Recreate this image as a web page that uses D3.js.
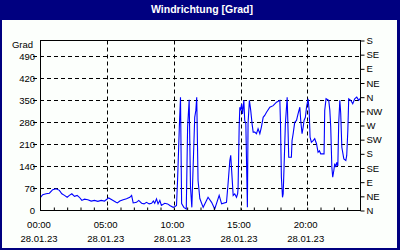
<!DOCTYPE html>
<html>
<head>
<meta charset="utf-8">
<script src="https://cdn.jsdelivr.net/npm/d3@7"></script>
<style>
	body { margin: 0; background: #ffffff; }
	text { font-family: "Liberation Sans", Arial, sans-serif; }
</style>
</head>
<body>
<script>
// minutes since midnight, 28.01.23
var minutes = [0, 10, 25, 40, 55, 70, 85, 96, 108, 120, 130, 141, 153, 165, 175, 186, 198, 213, 228, 243,
	258, 273, 288, 307, 321, 340, 346, 357, 372, 387, 402, 410, 417, 432, 442, 455, 466, 477, 489, 500,
	508, 514, 522, 529, 537, 544, 559, 572, 582, 597, 604, 612, 617, 625, 630, 635, 645, 656, 662, 669,
	675, 681, 694, 699, 703, 709, 717, 732, 754, 770, 784, 804, 815, 837, 844, 852, 856, 862, 867, 874,
	882, 887, 889, 894, 897, 900, 905, 909, 915, 919, 924, 931, 934, 940, 946, 952, 957, 964, 972, 979,
	987, 994, 1002, 1009, 1017, 1032, 1047, 1062, 1077, 1080, 1084, 1089, 1092, 1096, 1102, 1110, 1114, 1117, 1129, 1132,
	1137, 1144, 1152, 1159, 1167, 1171, 1177, 1182, 1186, 1192, 1197, 1204, 1209, 1213, 1219, 1227, 1234, 1242, 1249, 1255,
	1261, 1276, 1279, 1285, 1297, 1302, 1306, 1311, 1315, 1320, 1324, 1329, 1333, 1338, 1342, 1347, 1351, 1356, 1365, 1374,
	1378, 1383, 1387, 1396, 1405, 1414, 1423, 1432, 1440];

// wind direction in degrees
var degrees = [42, 50, 53, 55, 66, 69, 64, 53, 48, 42, 48, 53, 45, 48, 42, 32, 36, 34, 30, 32,
	29, 32, 30, 40, 34, 26, 24, 30, 34, 37, 42, 48, 24, 26, 32, 23, 21, 26, 21, 23,
	30, 23, 37, 21, 32, 16, 23, 21, 16, 10, 12, 16, 100, 270, 360, 22, 10, 5, 265, 352,
	74, 10, 296, 318, 360, 95, 38, 10, 42, 26, 5, 48, 21, 26, 85, 159, 175, 106, 48, 53,
	42, 53, 69, 265, 328, 318, 339, 307, 350, 286, 276, 10, 276, 350, 318, 276, 249, 249, 244, 260,
	244, 265, 296, 302, 312, 328, 333, 344, 350, 276, 106, 42, 53, 138, 276, 360, 254, 169, 169, 222,
	244, 280, 286, 307, 328, 286, 244, 265, 286, 296, 328, 355, 318, 233, 217, 222, 228, 212, 185, 190,
	180, 180, 318, 355, 350, 318, 265, 138, 106, 127, 149, 138, 153, 141, 280, 350, 308, 201, 164, 159,
	175, 254, 355, 350, 339, 355, 360, 350, 357];

var leftTicks = [0, 70, 140, 210, 280, 350, 420, 490];
var compassTicks = [0, 45, 90, 135, 180, 225, 270, 315, 360, 405, 450, 495, 540];
var compassLabels = ["N", "NE", "E", "SE", "S", "SW", "W", "NW", "N", "NE", "E", "SE", "S"];
var timeTicks = [0, 300, 600, 900, 1200];
var timeLabels = ["00:00", "05:00", "10:00", "15:00", "20:00"];
var dateLabels = ["28.01.23", "28.01.23", "28.01.23", "28.01.23", "28.01.23"];

var width = 400, height = 250;
var plotLeft = 40.5, plotRight = 360.5, plotTop = 40.5, plotBottom = 210.5;

var svg = d3.select("body").append("svg")
	.attr("width", width)
	.attr("height", height);

// frame and title bar
svg.append("rect").attr("width", width).attr("height", height).attr("fill", "#000080");
svg.append("rect")
	.attr("x", 2).attr("y", 20)
	.attr("width", 395).attr("height", 228)
	.attr("fill", "#fcfffc");
svg.append("text")
	.attr("x", 202).attr("y", 13)
	.attr("text-anchor", "middle")
	.attr("fill", "#ffffff")
	.attr("font-weight", "bold")
	.attr("font-size", "10.5px")
	.text("Windrichtung [Grad]");

var x = d3.scaleLinear().domain([0, 1440]).range([plotLeft, plotRight]);
var y = d3.scaleLinear().domain([0, 540]).range([plotBottom, plotTop]);

// dashed grid
svg.append("g").selectAll("line")
	.data(leftTicks.slice(1))
	.enter()
	.append("line")
	.attr("x1", 33).attr("x2", plotRight)
	.attr("y1", function(d) { return Math.round(y(d)) + 0.5; })
	.attr("y2", function(d) { return Math.round(y(d)) + 0.5; })
	.attr("stroke", "#000")
	.attr("stroke-dasharray", "4,3");

svg.append("g").selectAll("line")
	.data(timeTicks.slice(1))
	.enter()
	.append("line")
	.attr("x1", function(d) { return Math.round(x(d)) + 0.5; })
	.attr("x2", function(d) { return Math.round(x(d)) + 0.5; })
	.attr("y1", plotTop).attr("y2", plotBottom)
	.attr("stroke", "#000")
	.attr("stroke-dasharray", "4,3");

// data line
var line = d3.line()
	.x(function(d, i) { return x(minutes[i]); })
	.y(function(d) { return y(d); });

svg.append("path")
	.datum(degrees)
	.attr("d", line)
	.attr("fill", "none")
	.attr("stroke", "#0000ff")
	.attr("stroke-width", 1.1);

svg.append("rect")
	.attr("x", plotLeft).attr("y", plotTop)
	.attr("width", plotRight - plotLeft).attr("height", plotBottom - plotTop)
	.attr("fill", "none")
	.attr("stroke", "#000");

// left axis labels
svg.append("g").selectAll("text")
	.data(leftTicks)
	.enter()
	.append("text")
	.attr("x", 35)
	.attr("y", function(d) { return y(d); })
	.attr("dy", "0.35em")
	.attr("text-anchor", "end")
	.attr("font-size", "9.5px")
	.text(function(d) { return d; });

svg.append("text")
	.attr("x", 33).attr("y", 48)
	.attr("text-anchor", "end")
	.attr("font-size", "9.5px")
	.text("Grad");

// right compass axis
var rightAxis = d3.axisRight(y)
	.tickValues(compassTicks)
	.tickSize(4)
	.tickPadding(2)
	.tickFormat(function(d, i) { return compassLabels[i]; });

svg.append("g")
	.attr("transform", "translate(" + plotRight + ",0)")
	.call(rightAxis)
	.call(function(g) {
		g.select(".domain").remove();
		g.selectAll("text").attr("font-size", "9.5px").attr("font-family", null).attr("fill", "#000");
	});

// hourly ticks inside the bottom edge
var bottomAxis = d3.axisTop(x)
	.tickValues(d3.range(60, 1440, 60))
	.tickSize(3)
	.tickFormat("");

svg.append("g")
	.attr("transform", "translate(0," + plotBottom + ")")
	.call(bottomAxis)
	.call(function(g) { g.select(".domain").remove(); });

// time and date labels
var labels = svg.append("g").selectAll("g")
	.data(timeTicks)
	.enter()
	.append("g")
	.attr("transform", function(d) { return "translate(" + (x(d) - 1.5) + ",0)"; });

labels.append("text")
	.attr("y", 227.5)
	.attr("text-anchor", "middle")
	.attr("font-size", "9.5px")
	.text(function(d, i) { return timeLabels[i]; });

labels.append("text")
	.attr("y", 241.5)
	.attr("text-anchor", "middle")
	.attr("font-size", "9.5px")
	.text(function(d, i) { return dateLabels[i]; });
</script>
</body>
</html>
